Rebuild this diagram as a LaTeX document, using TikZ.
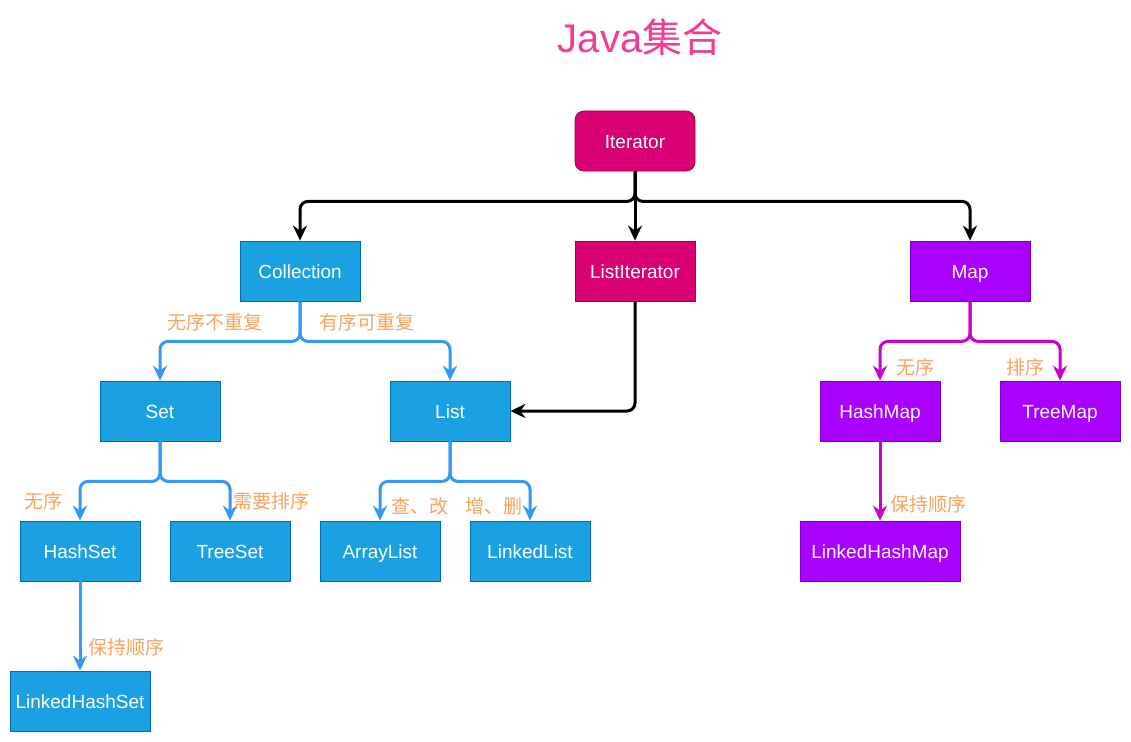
\documentclass[tikz,border=0pt]{standalone}
\usepackage{fontspec}
\setmainfont{Liberation Sans}
\newfontfamily\cjk{Noto Sans CJK SC}
\usetikzlibrary{arrows.meta}
\definecolor{blueF}{HTML}{1BA1E2}
\definecolor{blueS}{HTML}{006EAF}
\definecolor{crimF}{HTML}{D80073}
\definecolor{crimS}{HTML}{A50040}
\definecolor{purF}{HTML}{AA00FF}
\definecolor{purS}{HTML}{7700CC}
\definecolor{blueE}{HTML}{3399F5}
\definecolor{purE}{HTML}{C800D0}
\definecolor{labC}{HTML}{F7A45E}
\definecolor{titleC}{HTML}{F23C96}
\begin{document}
\begin{tikzpicture}[x=1pt,y=-1pt,
  box/.style={draw, line width=0.8pt, minimum width=120pt, minimum height=60pt, inner sep=0pt,
    text=white, font=\fontsize{19}{21}\selectfont, text height=14pt, text depth=0pt},
  bluebox/.style={box, fill=blueF, draw=blueS},
  crimbox/.style={box, fill=crimF, draw=crimS},
  purbox/.style={box, fill=purF, draw=purS},
  arr/.style={line width=3pt, rounded corners=8pt, -{Stealth[length=15pt,width=14pt,inset=5pt]}},
  blk/.style={arr, draw=black},
  blu/.style={arr, draw=blueE},
  pur/.style={arr, draw=purE},
  lab/.style={text=labC, font=\cjk\fontsize{19}{21}\selectfont, inner sep=0pt}]
\useasboundingbox (0,0) rectangle (1131,741);
\fill[white] (0,0) rectangle (1131,741);

\node[text=titleC, font=\fontsize{40}{44}\selectfont, inner sep=0pt] (title) at (640,37) {Java{\cjk 集合}};

\node[crimbox, rounded corners=9pt] (it) at (635,141) {Iterator};
\node[bluebox] (col) at (300,271) {Collection};
\node[crimbox] (li) at (635,271) {ListIterator};
\node[purbox] (map) at (970,271) {Map};
\node[bluebox] (set) at (160,411) {Set};
\node[bluebox] (list) at (450,411) {List};
\node[purbox] (hm) at (880,411) {HashMap};
\node[purbox] (tm) at (1060,411) {TreeMap};
\node[bluebox] (hs) at (80,551) {HashSet};
\node[bluebox] (ts) at (230,551) {TreeSet};
\node[bluebox] (al) at (380,551) {ArrayList};
\node[bluebox] (ll) at (530,551) {LinkedList};
\node[purbox, minimum width=160pt] (lhm) at (880,551) {LinkedHashMap};
\node[bluebox, minimum width=140pt] (lhs) at (80,701) {LinkedHashSet};

% black edges
\draw[blk] (it.south) -- ++(0,30) -| (col.north);
\draw[blk] (it.south) -- (li.north);
\draw[blk] (it.south) -- ++(0,30) -| (map.north);
\draw[blk] (li.south) |- (list.east);

% blue edges
\draw[blu] (col.south) -- ++(0,40) -| (set.north);
\draw[blu] (col.south) -- ++(0,40) -| (list.north);
\draw[blu] (set.south) -- ++(0,40) -| (hs.north);
\draw[blu] (set.south) -- ++(0,40) -| (ts.north);
\draw[blu] (list.south) -- ++(0,40) -| (al.north);
\draw[blu] (list.south) -- ++(0,40) -| (ll.north);
\draw[blu] (hs.south) -- (lhs.north);

% purple edges
\draw[pur] (map.south) -- ++(0,40) -| (hm.north);
\draw[pur] (map.south) -- ++(0,40) -| (tm.north);
\draw[pur] (hm.south) -- (lhm.north);

% labels
\node[lab] (l1) at (215,322) {无序不重复};
\node[lab] (l2) at (367,322) {有序可重复};
\node[lab] (l3) at (43,501) {无序};
\node[lab] (l4) at (271,501) {需要排序};
\node[lab] (l5) at (420,506) {查、改};
\node[lab] (l6) at (494,506) {增、删};
\node[lab] (l7) at (126,647) {保持顺序};
\node[lab] (l8) at (915,367) {无序};
\node[lab] (l9) at (1025,367) {排序};
\node[lab] (l10) at (928,504) {保持顺序};
\end{tikzpicture}
\end{document}
